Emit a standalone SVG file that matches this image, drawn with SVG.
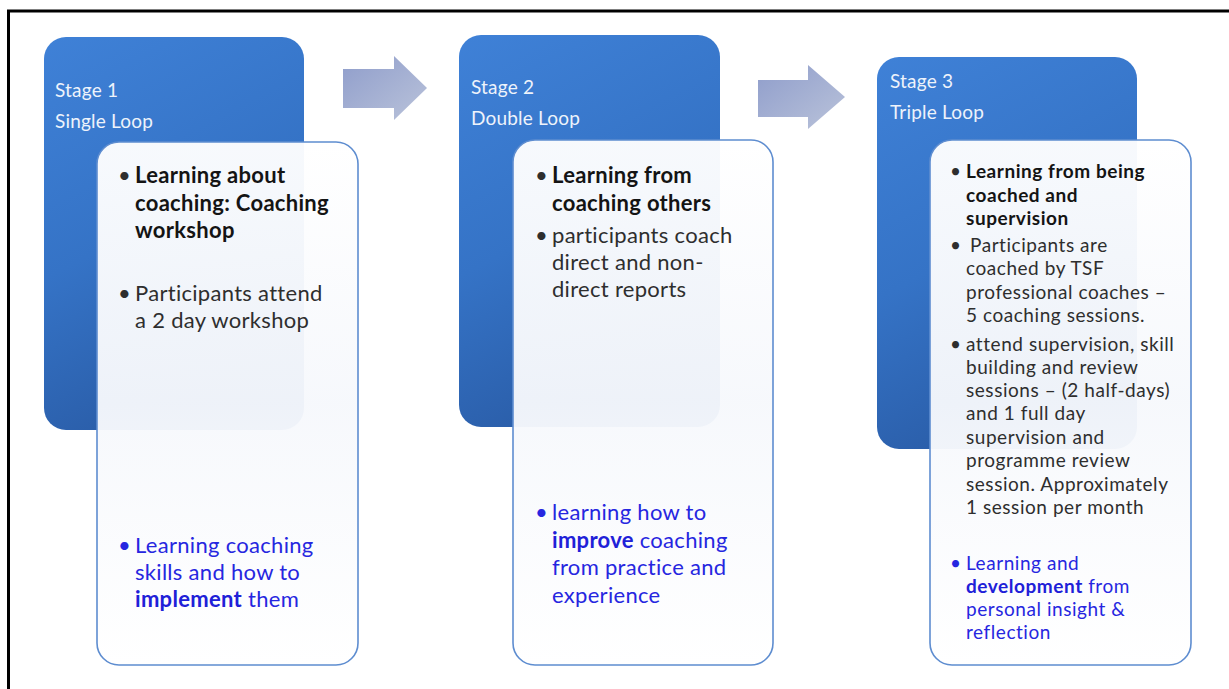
<svg xmlns="http://www.w3.org/2000/svg" width="1229" height="689" viewBox="0 0 1229 689">
  <style>
    .stage { fill: url(#stageFill); }
    .card { fill: url(#cardFill); stroke: #5E8DD0; stroke-width: 1.6; }
    .head { font-family: Lato, "Liberation Sans", sans-serif; font-size: 19px; fill: #EEF3FB; letter-spacing: 0.2px; }
    .t1 { font-family: Lato, "Liberation Sans", sans-serif; font-size: 22px; fill: #2E2E2E; letter-spacing: 0.3px; }
    .t3 { font-family: Lato, "Liberation Sans", sans-serif; font-size: 19px; fill: #2E2E2E; letter-spacing: 0.55px; }
    .b { font-weight: bold; fill: #141414; }
    .blue { fill: #2626E0; }
    .blue .b { fill: #2020D8; }
    .arrow { fill: url(#arrowFill); }
  </style>
  <defs>
    <linearGradient id="stageFill" x1="0" y1="0" x2="0.35" y2="1">
      <stop offset="0" stop-color="#3F81D7"/>
      <stop offset="0.55" stop-color="#3573C6"/>
      <stop offset="1" stop-color="#2A5DA8"/>
    </linearGradient>
    <linearGradient id="cardFill" x1="0" y1="0" x2="0" y2="1">
      <stop offset="0" stop-color="#FFFFFF" stop-opacity="0.96"/>
      <stop offset="0.5" stop-color="#F6F8FC" stop-opacity="0.96"/>
      <stop offset="1" stop-color="#FFFFFF" stop-opacity="0.99"/>
    </linearGradient>
    <linearGradient id="arrowFill" x1="0" y1="0" x2="1" y2="1">
      <stop offset="0" stop-color="#8F9DCB"/>
      <stop offset="1" stop-color="#BAC3DA"/>
    </linearGradient>
  </defs>

  <rect width="1229" height="689" fill="#FFFFFF"/>
  <!-- frame -->
  <path d="M8.5 689 V11 H1229" fill="none" stroke="#000" stroke-width="3"/>

  <!-- connectors between stages -->
  <g id="connectors">
    <path class="arrow" d="M343 69 H394 V56 L427 88 L394 120 V108 H343 Z"/>
    <path class="arrow" d="M758 80 H808 V65 L845 97 L808 129 V117 H758 Z"/>
  </g>

  <g id="stage1">
    <rect class="stage" x="44" y="37" width="260" height="393" rx="22"/>
    <text class="head"><tspan x="55" y="97">Stage 1</tspan><tspan x="55" y="128">Single Loop</tspan></text>
    <rect class="card" x="97" y="142" width="261" height="523" rx="22"/>
    <text class="t1">
      <tspan x="118" y="183">•</tspan>
      <tspan class="b" x="135" y="183">Learning about</tspan>
      <tspan class="b" x="135" y="211">coaching: Coaching</tspan>
      <tspan class="b" x="135" y="238">workshop</tspan>
      <tspan x="118" y="301">•</tspan>
      <tspan x="135" y="301">Participants attend</tspan>
      <tspan x="135" y="328">a 2 day workshop</tspan>
    </text>
    <text class="t1 blue">
      <tspan x="118" y="553">•</tspan>
      <tspan x="135" y="553">Learning coaching</tspan>
      <tspan x="135" y="580">skills and how to</tspan>
      <tspan class="b" x="135" y="607">implement</tspan><tspan> them</tspan>
    </text>
  </g>

  <g id="stage2">
    <rect class="stage" x="459" y="35" width="261" height="392" rx="22"/>
    <text class="head"><tspan x="471" y="94">Stage 2</tspan><tspan x="471" y="125">Double Loop</tspan></text>
    <rect class="card" x="513" y="140" width="260" height="525" rx="22"/>
    <text class="t1">
      <tspan x="535" y="183">•</tspan>
      <tspan class="b" x="552" y="183">Learning from</tspan>
      <tspan class="b" x="552" y="211">coaching others</tspan>
      <tspan x="535" y="243">•</tspan>
      <tspan x="552" y="243">participants  coach</tspan>
      <tspan x="552" y="270">direct and non-</tspan>
      <tspan x="552" y="297">direct reports</tspan>
    </text>
    <text class="t1 blue">
      <tspan x="535" y="520">•</tspan>
      <tspan x="552" y="520">learning how to</tspan>
      <tspan class="b" x="552" y="548">improve</tspan><tspan> coaching</tspan>
      <tspan x="552" y="575">from practice and</tspan>
      <tspan x="552" y="603">experience</tspan>
    </text>
  </g>

  <g id="stage3">
    <rect class="stage" x="877" y="57" width="260" height="392" rx="22"/>
    <text class="head"><tspan x="890" y="88">Stage 3</tspan><tspan x="890" y="119">Triple Loop</tspan></text>
    <rect class="card" x="930" y="140" width="261" height="525" rx="22"/>
    <text class="t3">
      <tspan x="950" y="178">•</tspan>
      <tspan class="b" x="966" y="178">Learning from being</tspan>
      <tspan class="b" x="966" y="202">coached and</tspan>
      <tspan class="b" x="966" y="225">supervision</tspan>
      <tspan x="950" y="252">•</tspan>
      <tspan x="970" y="252">Participants are</tspan>
      <tspan x="966" y="275">coached by TSF</tspan>
      <tspan x="966" y="299">professional coaches –</tspan>
      <tspan x="966" y="322">5 coaching sessions.</tspan>
      <tspan x="950" y="351">•</tspan>
      <tspan x="966" y="351">attend supervision, skill</tspan>
      <tspan x="966" y="374">building and review</tspan>
      <tspan x="966" y="397">sessions – (2 half-days)</tspan>
      <tspan x="966" y="420">and 1 full day</tspan>
      <tspan x="966" y="444">supervision and</tspan>
      <tspan x="966" y="467">programme review</tspan>
      <tspan x="966" y="491">session. Approximately</tspan>
      <tspan x="966" y="514">1 session per month</tspan>
    </text>
    <text class="t3 blue">
      <tspan x="950" y="570">•</tspan>
      <tspan x="966" y="570">Learning and</tspan>
      <tspan class="b" x="966" y="593">development</tspan><tspan> from</tspan>
      <tspan x="966" y="616">personal insight &amp;</tspan>
      <tspan x="966" y="639">reflection</tspan>
    </text>
  </g>
</svg>
